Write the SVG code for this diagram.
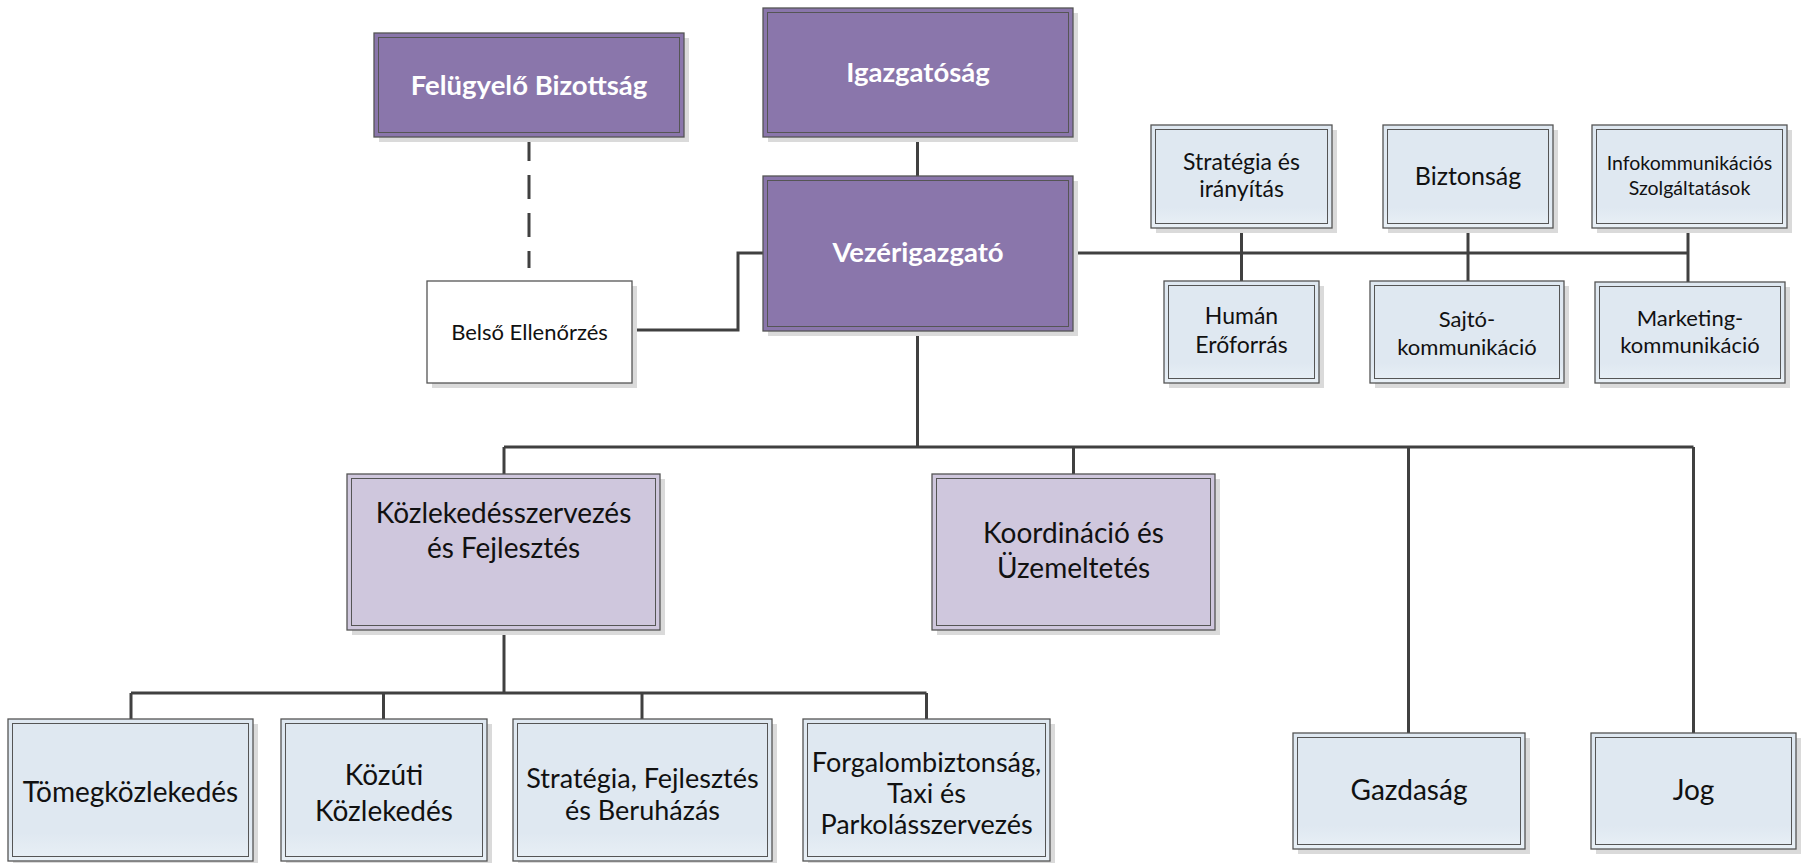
<svg xmlns="http://www.w3.org/2000/svg" width="1804" height="863" viewBox="0 0 1804 863">
<defs>
<linearGradient id="gb" x1="0" y1="0" x2="0" y2="1">
<stop offset="0" stop-color="#dfe8f1"/>
<stop offset="0.8" stop-color="#dfe8f1"/>
<stop offset="1" stop-color="#e9f0f6"/>
</linearGradient>
<style>
.sh{fill:#dadada}
.ob{stroke:#555;stroke-width:1.3}
.ib{fill:none;stroke:#555;stroke-width:1}
.p{fill:#8a76ab}
.lp{fill:#cfc7dd}
.lb{fill:url(#gb)}
.w{fill:#fff}
.t{font-family:Lato,"Liberation Sans",sans-serif;fill:#111;text-anchor:middle}
.tb{font-weight:bold;fill:#fff;font-size:27.5px}
.s28{font-size:28px}
.s27{font-size:27px}
.s25{font-size:25px}
.s23{font-size:23px}
.s22{font-size:22px}
.s19{font-size:19.5px}
.conn{stroke:#404040;stroke-width:3;fill:none}
.dash{stroke-dasharray:24 14}
</style>
</defs>
<rect width="1804" height="863" fill="#fff"/>

<g id="connectors">
<path class="conn" d="M917.5 137V176"/>
<path class="conn dash" d="M529 137V268"/>
<path class="conn" d="M632 330H738V253H763"/>
<path class="conn" d="M1073 253H1688"/>
<path class="conn" d="M1241.5 228V281"/>
<path class="conn" d="M1468 228V281"/>
<path class="conn" d="M1688 228V282"/>
<path class="conn" d="M917.5 331V447"/>
<path class="conn" d="M504 447H1693.5"/>
<path class="conn" d="M504 447V474"/>
<path class="conn" d="M1073.5 447V474"/>
<path class="conn" d="M1408.5 447V733"/>
<path class="conn" d="M1693.5 447V733"/>
<path class="conn" d="M504 630V693"/>
<path class="conn" d="M131 693H926.5"/>
<path class="conn" d="M131 693V719"/>
<path class="conn" d="M383.5 693V719"/>
<path class="conn" d="M642 693V719"/>
<path class="conn" d="M926.5 693V719"/>
</g>

<g id="felugyelo-bizottsag">
<rect class="sh" x="379" y="38" width="310" height="104"/>
<rect class="p ob" x="374" y="33" width="310" height="104"/>
<rect class="ib" x="378.5" y="37.5" width="301" height="95"/>
<text class="t tb" x="529" y="95">Felügyelő Bizottság</text>
</g>

<g id="igazgatosag">
<rect class="sh" x="768" y="13" width="310" height="129"/>
<rect class="p ob" x="763" y="8" width="310" height="129"/>
<rect class="ib" x="767.5" y="12.5" width="301" height="120"/>
<text class="t tb" x="918" y="82">Igazgatóság</text>
</g>

<g id="vezerigazgato">
<rect class="sh" x="768" y="181" width="310" height="155"/>
<rect class="p ob" x="763" y="176" width="310" height="155"/>
<rect class="ib" x="767.5" y="180.5" width="301" height="146"/>
<text class="t tb" x="918" y="262">Vezérigazgató</text>
</g>

<g id="belso-ellenorzes">
<rect class="sh" x="432" y="286" width="205" height="102"/>
<rect class="w ob" x="427" y="281" width="205" height="102"/>
<text class="t s22" x="529.5" y="340">Belső Ellenőrzés</text>
</g>

<g id="strategia-iranyitas">
<rect class="sh" x="1156" y="130" width="181" height="103"/>
<rect class="lb ob" x="1151" y="125" width="181" height="103"/>
<rect class="ib" x="1155.5" y="129.5" width="172" height="94"/>
<text class="t s23" x="1241.5" y="170">Stratégia és</text>
<text class="t s23" x="1241.5" y="197">irányítás</text>
</g>

<g id="biztonsag">
<rect class="sh" x="1388" y="130" width="170" height="103"/>
<rect class="lb ob" x="1383" y="125" width="170" height="103"/>
<rect class="ib" x="1387.5" y="129.5" width="161" height="94"/>
<text class="t s25" x="1468" y="185">Biztonság</text>
</g>

<g id="infokommunikacios-szolgaltatasok">
<rect class="sh" x="1597" y="130" width="195" height="103"/>
<rect class="lb ob" x="1592" y="125" width="195" height="103"/>
<rect class="ib" x="1596.5" y="129.5" width="186" height="94"/>
<text class="t s19" x="1689.5" y="170">Infokommunikációs</text>
<text class="t s19" x="1689.5" y="195">Szolgáltatások</text>
</g>

<g id="human-eroforras">
<rect class="sh" x="1169" y="286" width="155" height="102"/>
<rect class="lb ob" x="1164" y="281" width="155" height="102"/>
<rect class="ib" x="1168.5" y="285.5" width="146" height="93"/>
<text class="t s23" x="1241.5" y="324">Humán</text>
<text class="t s23" x="1241.5" y="353">Erőforrás</text>
</g>

<g id="sajtokommunikacio">
<rect class="sh" x="1375" y="286" width="194" height="102"/>
<rect class="lb ob" x="1370" y="281" width="194" height="102"/>
<rect class="ib" x="1374.5" y="285.5" width="185" height="93"/>
<text class="t s22" x="1467" y="327">Sajtó-</text>
<text class="t s22" x="1467" y="355">kommunikáció</text>
</g>

<g id="marketingkommunikacio">
<rect class="sh" x="1600" y="287" width="190" height="101"/>
<rect class="lb ob" x="1595" y="282" width="190" height="101"/>
<rect class="ib" x="1599.5" y="286.5" width="181" height="92"/>
<text class="t s22" x="1690" y="326">Marketing-</text>
<text class="t s22" x="1690" y="353">kommunikáció</text>
</g>

<g id="kozlekedesszervezes">
<rect class="sh" x="352" y="479" width="313" height="156"/>
<rect class="lp ob" x="347" y="474" width="313" height="156"/>
<rect class="ib" x="351.5" y="478.5" width="304" height="147"/>
<text class="t s28" x="503.5" y="523">Közlekedésszervezés</text>
<text class="t s28" x="503.5" y="558">és Fejlesztés</text>
</g>

<g id="koordinacio-uzemeltetes">
<rect class="sh" x="937" y="479" width="283" height="156"/>
<rect class="lp ob" x="932" y="474" width="283" height="156"/>
<rect class="ib" x="936.5" y="478.5" width="274" height="147"/>
<text class="t s28" x="1073.5" y="543">Koordináció és</text>
<text class="t s28" x="1073.5" y="578">Üzemeltetés</text>
</g>

<g id="tomegkozlekedes">
<rect class="sh" x="13" y="724" width="245" height="142"/>
<rect class="lb ob" x="8" y="719" width="245" height="142"/>
<rect class="ib" x="12.5" y="723.5" width="236" height="133"/>
<text class="t s28" x="130.5" y="802">Tömegközlekedés</text>
</g>

<g id="kozuti-kozlekedes">
<rect class="sh" x="286" y="724" width="206" height="142"/>
<rect class="lb ob" x="281" y="719" width="206" height="142"/>
<rect class="ib" x="285.5" y="723.5" width="197" height="133"/>
<text class="t s28" x="384" y="785">Közúti</text>
<text class="t s28" x="384" y="821">Közlekedés</text>
</g>

<g id="strategia-fejlesztes-beruhazas">
<rect class="sh" x="518" y="724" width="259" height="142"/>
<rect class="lb ob" x="513" y="719" width="259" height="142"/>
<rect class="ib" x="517.5" y="723.5" width="250" height="133"/>
<text class="t s27" x="642.5" y="788">Stratégia, Fejlesztés</text>
<text class="t s27" x="642.5" y="820">és Beruházás</text>
</g>

<g id="forgalombiztonsag">
<rect class="sh" x="808" y="724" width="247" height="142"/>
<rect class="lb ob" x="803" y="719" width="247" height="142"/>
<rect class="ib" x="807.5" y="723.5" width="238" height="133"/>
<text class="t s27" x="926.5" y="772">Forgalombiztonság,</text>
<text class="t s27" x="926.5" y="803">Taxi és</text>
<text class="t s27" x="926.5" y="834">Parkolásszervezés</text>
</g>

<g id="gazdasag">
<rect class="sh" x="1298" y="738" width="232" height="116"/>
<rect class="lb ob" x="1293" y="733" width="232" height="116"/>
<rect class="ib" x="1297.5" y="737.5" width="223" height="107"/>
<text class="t s28" x="1409" y="800">Gazdaság</text>
</g>

<g id="jog">
<rect class="sh" x="1596" y="738" width="205" height="116"/>
<rect class="lb ob" x="1591" y="733" width="205" height="116"/>
<rect class="ib" x="1595.5" y="737.5" width="196" height="107"/>
<text class="t s28" x="1693.5" y="800">Jog</text>
</g>
</svg>
